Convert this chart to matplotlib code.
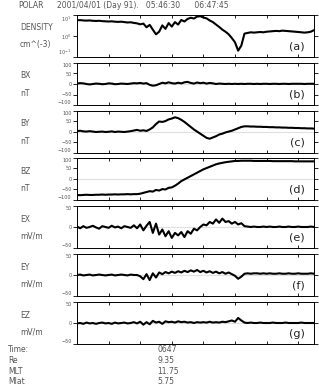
import numpy as np
import matplotlib
matplotlib.use("Agg")
import matplotlib.pyplot as plt

# time axis in minutes after start
minutes = np.arange(76)

density = [5.6, 5.7, 5.5, 5.4, 5.5, 5.3, 5.2, 5.3, 5.1, 5.0,
           4.9, 5.0, 4.8, 4.7, 4.8, 4.6, 4.4, 4.5, 4.2, 4.0,
           3.6, 3.9, 2.6, 3.4, 2.0, 1.2, 1.6, 3.2, 2.2, 4.1,
           2.8, 4.6, 3.5, 5.8, 4.9, 6.5, 7.4, 6.8, 8.4, 8.8,
           7.6, 6.9, 5.5, 4.6, 3.5, 2.7, 2.0, 1.6, 1.2, 0.8,
           0.5, 0.2, 0.35, 1.3, 1.4, 1.5, 1.45, 1.5, 1.55, 1.5,
           1.6, 1.65, 1.7, 1.75, 1.7, 1.8, 1.75, 1.7, 1.65, 1.6,
           1.55, 1.5, 1.45, 1.5, 1.6, 1.9]
bx = [2, 4, 3, 0, -2, 0, 2, 1, -1, 0,
      3, 2, -1, 0, 2, 1, 0, 2, 4, 3,
      5, 2, 4, -4, -8, -6, 0, 6, 3, 8,
      4, 2, 6, 3, 8, 10, 5, 2, 7, 4,
      6, 2, 5, 3, 0, 2, 1, 0, 1, 0,
      1, 0, 1, 0, 1, 1, 0, 1, 0, 1,
      1, 0, 1, 1, 0, 1, 1, 0, 1, 1,
      1, 1, 0, 1, 1, 1]
by = [4, 6, 3, 2, 4, 2, 0, 1, 2, 0,
      1, 3, 0, 2, 1, 0, 2, 4, 7, 10,
      6, 8, 5, 12, 22, 38, 50, 48, 52, 60,
      64, 70, 66, 58, 48, 36, 24, 12, 2, -8,
      -18, -28, -32, -26, -20, -12, -8, -2, 2, 6,
      12, 18, 24, 27, 27, 26, 26, 25, 25, 24,
      24, 23, 23, 22, 22, 21, 21, 20, 20, 19,
      19, 18, 18, 17, 17, 16]
bz = [-76, -77, -76, -75, -76, -76, -75, -75, -74, -75,
      -74, -74, -73, -74, -73, -73, -72, -73, -72, -72,
      -70, -66, -62, -58, -60, -52, -55, -48, -50, -42,
      -40, -32, -22, -10, -2, 6, 14, 22, 30, 38,
      46, 52, 58, 64, 70, 74, 77, 80, 82, 84,
      86, 86, 87, 87, 87, 87, 86, 86, 86, 86,
      86, 86, 85, 85, 85, 85, 85, 85, 85, 84,
      84, 84, 84, 84, 84, 84]
ex = [1, -3, 2, -2, 0, 3, -1, -4, 2, 0,
      -2, 3, -1, 1, -3, 2, 0, -2, 4, -3,
      6, -8, 3, 12, -14, 8, -18, -6, -22, -10,
      -26, -14, -20, -12, -24, -10, -16, -4, -8, 0,
      6, 4, 12, 8, 18, 10, 20, 12, 14, 8,
      12, 6, 9, 2, 1, 0, 1, 0, 0, 1,
      0, 1, 0, 0, 1, 0, 0, 1, 0, 0,
      1, 0, 0, 0, 1, 0]
ey = [0, 1, -1, 0, 1, -1, 0, 1, 0, -1,
      0, 1, -1, 0, 1, 0, -1, 1, 0, 0,
      -3, -10, 2, -12, 4, -6, 6, 2, 7, 4,
      8, 5, 9, 6, 10, 7, 11, 8, 12, 7,
      10, 6, 9, 5, 8, 4, 7, 3, 6, 2,
      -2, -9, -4, 3, 4, 3, 4, 4, 3, 4,
      3, 4, 3, 3, 4, 3, 3, 4, 3, 3,
      4, 3, 3, 3, 4, 3]
ez = [-1, 0, -2, 1, -1, 0, -2, 0, 1, -1,
      0, -2, 1, -1, 0, 1, -1, 0, 2, -1,
      3, -4, 2, -3, 5, 1, 3, -2, 4, 2,
      3, 1, 4, 2, 3, 1, 2, 0, 2, 1,
      2, 1, 3, 1, 2, 1, 3, 2, 4, 6,
      3, 12, 6, 1, 0, 1, 0, 0, 1, 0,
      0, 0, 1, 0, 0, 0, 1, 0, 0, 0,
      0, 1, 0, 0, 0, 0]

names = ["DENSITY", "BX", "BY", "BZ", "EX", "EY", "EZ"]
units = ["cm^(-3)", "nT", "nT", "nT", "mV/m", "mV/m", "mV/m"]
letters = ["(a)", "(b)", "(c)", "(d)", "(e)", "(f)", "(g)"]
series = [density, bx, by, bz, ex, ey, ez]
ranges = [(0.1, 10), (-100, 100), (-100, 100), (-100, 100),
          (-50, 50), (-50, 50), (-50, 50)]
log_ticks = [0.1, 1, 10]
log_labels = ["$10^{-1}$", "$10^{0}$", "$10^{1}$"]

info_labels = ["Time:", "Re", "MLT", "Mlat"]
info_values = ["0647", "9.35", "11.75", "5.75"]

W, H = 319, 388
fig = plt.figure(figsize=(W / 100, H / 100), dpi=100)
grey = "#555555"

tops = [15, 63, 111, 158, 206, 254, 302]
ph = 42
left, width = 77, 237

for i in range(7):
    ax = fig.add_axes([left / W, 1 - (tops[i] + ph) / H, width / W, ph / H])
    if i == 0:
        ax.set_yscale("log")
    else:
        ax.axhline(0, color="0.88", lw=0.8, zorder=1)
    ax.plot(minutes, series[i], color="black", lw=1.5, zorder=2)
    ax.set_xlim(0, 75)
    ax.set_ylim(*ranges[i])
    ax.set_xticks(np.arange(10, 75, 10))
    ax.set_xticklabels([])
    if i == 0:
        ax.set_yticks(log_ticks)
        ax.set_yticklabels(log_labels)
        ax.tick_params(which="minor", length=0)
    else:
        lo, hi = ranges[i]
        if hi == 100:
            ax.set_yticks([-100, -50, 0, 50, 100])
        else:
            ax.set_yticks([-50, 0, 50])
        ax.minorticks_off()
    ax.tick_params(axis="x", direction="in", top=True, length=2, width=0.6)
    ax.tick_params(axis="y", direction="out", right=True, length=3, width=0.6,
                   labelsize=3.5, labelcolor=grey, pad=1)
    labs = ax.get_yticklabels()
    labs[0].set_va("bottom")
    labs[-1].set_va("top")
    for s in ax.spines.values():
        s.set_linewidth(0.7)
    ax.text(0.96, 0.12, letters[i], transform=ax.transAxes, ha="right",
            va="bottom", fontsize=8, color="#222222")
    fig.text(20 / W, 1 - (tops[i] + 13) / H, names[i], fontsize=5.5,
             color=grey, ha="left", va="center")
    fig.text(20 / W, 1 - (tops[i] + 30) / H, units[i], fontsize=5.5,
             color=grey, ha="left", va="center")

fig.text(18 / W, 1 - 6 / H, "POLAR", fontsize=5.5, color=grey, va="center")
fig.text(57 / W, 1 - 6 / H, "2001/04/01 (Day 91).   05:46:30      06:47:45",
         fontsize=5.5, color=grey, va="center")

for k in range(4):
    y = 1 - (350 + k * 10.5) / H
    fig.text(8 / W, y, info_labels[k], fontsize=5.5, color=grey, va="center")
    fig.text(157 / W, y, info_values[k], fontsize=5.5, color=grey, va="center")

fig.savefig("out.png", dpi=100)
